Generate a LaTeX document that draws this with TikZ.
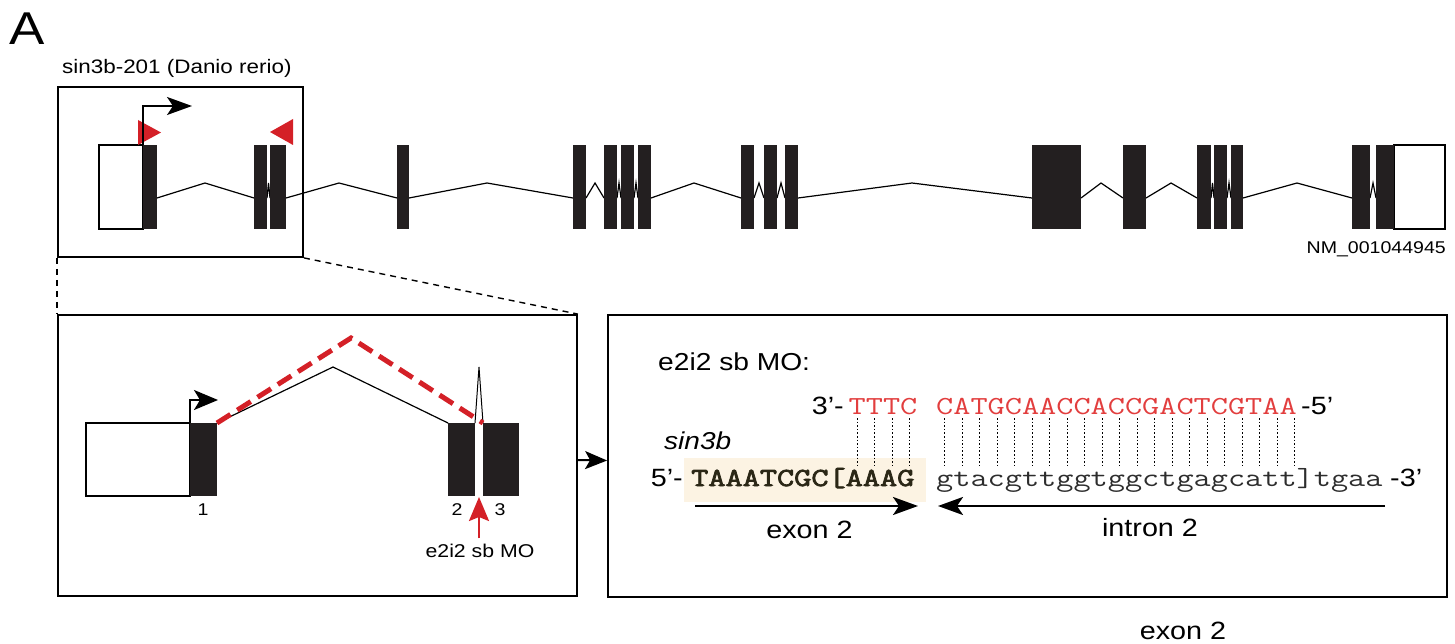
\documentclass[tikz,border=0pt]{standalone}
\usepackage{fontspec}
\setmainfont{Liberation Sans}[FakeStretch=1.15]
\newfontfamily\seqfont{Latin Modern Mono}[FakeStretch=1.282]
\newfontfamily\seqbold{Latin Modern Mono}[FakeStretch=1.282, FakeBold=3]
\usetikzlibrary{arrows.meta}
\definecolor{exonc}{RGB}{35,31,32}
\definecolor{mred}{RGB}{212,32,39}
\definecolor{seqred}{RGB}{226,62,62}
\definecolor{hl}{RGB}{252,243,227}
\definecolor{seqdark}{RGB}{43,39,22}
\definecolor{seqgray}{RGB}{45,45,45}
\tikzset{
  exon/.style={fill=exonc},
  utr/.style={fill=white, draw=black, line width=1.8pt},
  intron/.style={draw=black, line width=1.2pt, line join=miter},
  panel/.style={draw=black, line width=1.8pt, inner sep=0pt},
  zoomline/.style={draw=black, line width=1.4pt, dash pattern=on 6pt off 5pt},
  lbl/.style={inner sep=0pt, text=black},
  seq/.style={inner sep=0pt, anchor=base west, font=\seqfont\fontsize{26}{30}\selectfont},
  bigtip/.style={-{Stealth[length=25pt,width=18pt,inset=6pt]}},
  pair/.style={draw=black, line width=0.8pt, dash pattern=on 1.6pt off 2pt}
}
\begin{document}
\begin{tikzpicture}[x=1pt,y=-1pt]
\useasboundingbox (0,0) rectangle (1455,644);

% panel label
\node[lbl, anchor=base west, font=\fontsize{46}{50}\selectfont] (plabel) at (9,45) {A};
\node[lbl, anchor=base west, font=\fontsize{19.5}{23}\selectfont] (title) at (62,74) {sin3b-201 (Danio rerio)};

% panels
\node[panel, minimum width=245pt, minimum height=170pt] (topbox) at (180.5,172) {};
\node[panel, minimum width=519pt, minimum height=281pt] (lbox) at (317.5,455.5) {};
\node[panel, minimum width=839pt, minimum height=282pt] (rbox) at (1027.5,456) {};

% zoom lines
\draw[zoomline] (topbox.south west) -- (lbox.north west);
\draw[zoomline] (topbox.south east) -- (lbox.north east);

% ---- top gene model ----
\foreach \a/\p/\b in {157/205/254, 267/268.5/270, 286/339/397, 409/487/573, 586/595/604,
  617/619/621, 634/636/638, 651/694/741, 754/759/764, 777/781/785, 798/912/1032,
  1081/1101/1123, 1146/1171/1197, 1211/1212.5/1214, 1227/1229/1231, 1243/1297/1352, 1370/1373/1376}
  \draw[intron] (\a,198) -- (\p,183) -- (\b,198);
\draw[utr] (99,145) rectangle (143,229);
\draw[utr] (1394,145) rectangle (1445,229);
\foreach \a/\b in {143/157, 254/267, 270/286, 397/409, 573/586, 604/617, 621/634, 638/651,
  741/754, 764/777, 785/798, 1032/1081, 1123/1146, 1197/1211, 1214/1227, 1231/1243, 1352/1370, 1376/1394}
  \fill[exon] (\a,145) rectangle (\b,229);
\fill[mred] (138,120) -- (138,145) -- (161,132.5) -- cycle;
\fill[mred] (293,119) -- (293,145) -- (270,132) -- cycle;
\draw[line width=2pt, bigtip] (143,145) -- (143,106) -- (192,106);
\node[lbl, anchor=base east, font=\fontsize{17}{20}\selectfont] (nm) at (1446,254) {NM\_001044945};

% ---- lower left panel ----
\draw[utr] (86,423) rectangle (190,496);
\fill[exon] (190,423) rectangle (217,496);
\fill[exon] (448,423) rectangle (475,496);
\fill[exon] (483,423) rectangle (519,496);
\draw[intron] (217,423) -- (333,367) -- (448,423);
\draw[draw=black, line width=1pt] (475,423) -- (479,367) -- (483,423);
\draw[mred, line width=5pt, dash pattern=on 16pt off 8pt] (217,423) -- (351,338) -- (483,423);
\draw[line width=2pt, -{Stealth[length=24pt,width=20pt,inset=6pt]}] (190,423) -- (190,400) -- (218,400);
\node[lbl, anchor=base, font=\fontsize{17}{20}\selectfont] (n1) at (203,515) {1};
\node[lbl, anchor=base, font=\fontsize{17}{20}\selectfont] (n2) at (457,515) {2};
\node[lbl, anchor=base, font=\fontsize{17}{20}\selectfont] (n3) at (500,515) {3};
\node[lbl, anchor=base, font=\fontsize{18.5}{22}\selectfont] (mo) at (480,557) {e2i2 sb MO};
\draw[mred, line width=2.5pt, -{Stealth[length=24pt,width=20pt,inset=4pt]}] (mo.north -| 479,0) ++(0,-5) -- (479,497);

% arrow between panels
\draw[line width=2pt, -{Stealth[length=22pt,width=18pt,inset=5pt]}] ([yshift=-4.5pt]lbox.east) -- ([yshift=-4.5pt]rbox.west);

% ---- right panel ----
\node[lbl, anchor=base west, font=\fontsize{24.5}{29}\selectfont] (motitle) at (658,370) {e2i2 sb MO:};
\fill[hl] (684,458) rectangle (926,502);
\node[lbl, anchor=base west, font=\itshape\fontsize{24.4}{29}\selectfont] (gene) at (664,449) {sin3b};

\node[seq, text=seqred] (r1) at ({691+9*17.5},414) {TTTC};
\node[seq, text=seqred] (r2) at ({691+14*17.5},414) {CATGCAACCACCGACTCGTAA};
\node[seq, text=seqdark, font=\seqbold\fontsize{26}{30}\selectfont] (s1) at (691,486) {TAAATCGC[AAAG};
\node[seq, text=seqgray] (s2) at ({691+14*17.5},486) {gtacgttggtggctgagcatt]tgaa};

\node[lbl, anchor=base east, font=\fontsize{25}{30}\selectfont] (p3) at (844,414) {3’-};
\node[lbl, anchor=base west, font=\fontsize{25}{30}\selectfont] (p5r) at (1301,414) {-5’};
\node[lbl, anchor=base east, font=\fontsize{25}{30}\selectfont] (p5) at (683,486) {5’-};
\node[lbl, anchor=base west, font=\fontsize{25}{30}\selectfont] (p3r) at (1390,486) {-3’};

\foreach \i in {9,...,12,14,15,...,34}
  \draw[pair] ({691+(\i+0.5)*17.5},418) -- ({691+(\i+0.5)*17.5},465);

\coordinate (ex2a) at (695,506);
\coordinate (ex2b) at (918,506);
\coordinate (in2a) at (1385,506);
\coordinate (in2b) at (938,506);
\draw[line width=2.5pt, bigtip] (ex2a) -- (ex2b);
\draw[line width=2.5pt, bigtip] (in2a) -- (in2b);
\node[lbl, anchor=base, font=\fontsize{25}{30}\selectfont] (exlab) at (809.5,538) {exon 2};
\node[lbl, anchor=base, font=\fontsize{25}{30}\selectfont] (inlab) at (1150,536) {intron 2};
\node[lbl, anchor=base, font=\fontsize{25}{30}\selectfont] (stray) at (1183,639) {exon 2};
\end{tikzpicture}
\end{document}
